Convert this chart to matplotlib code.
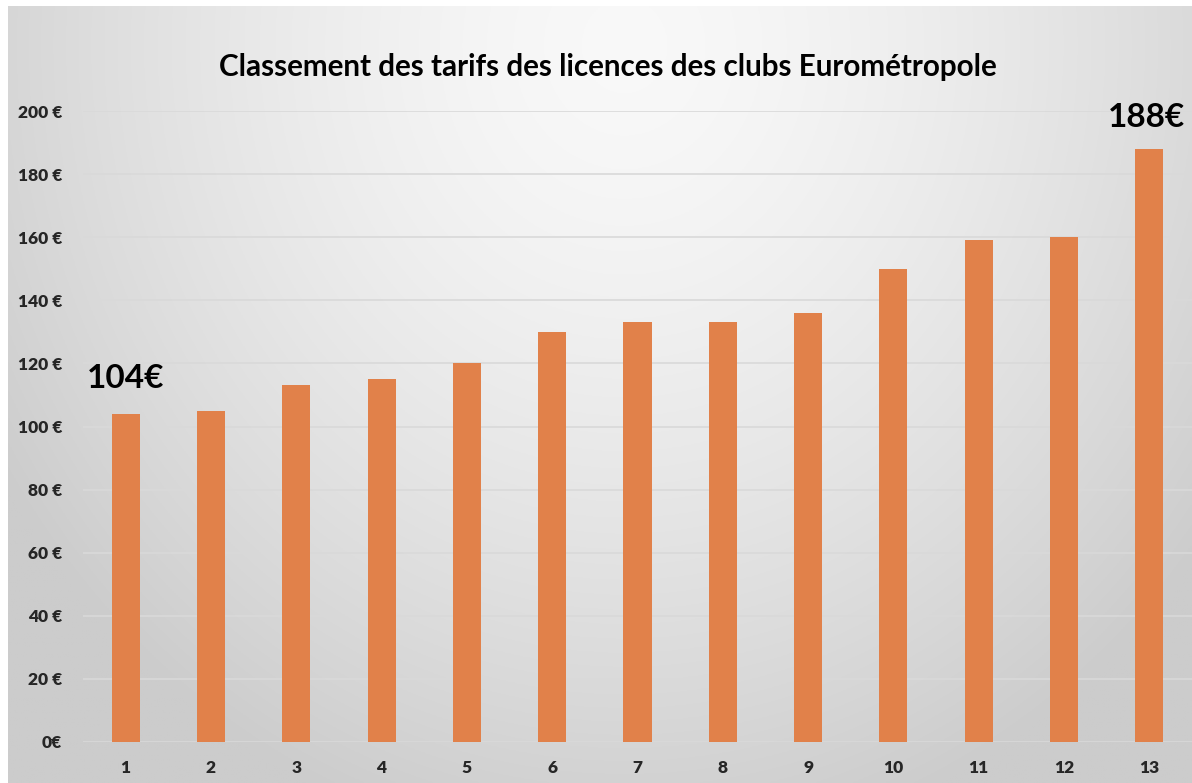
import numpy as np
import matplotlib
matplotlib.use("Agg")
import matplotlib.pyplot as plt

# ---- data ----
categories = ["1", "2", "3", "4", "5", "6", "7", "8", "9", "10", "11", "12", "13"]
tarifs = [104, 105, 113, 115, 120, 130, 133, 133, 136, 150, 159, 160, 188]
ytick_values = [0, 20, 40, 60, 80, 100, 120, 140, 160, 180, 200]
ytick_labels = ["0€", "20 €", "40 €", "60 €", "80 €", "100 €", "120 €", "140 €",
                "160 €", "180 €", "200 €"]
title = "Classement des tarifs des licences des clubs Eurométropole"
annot_min_label = "104€"
annot_max_label = "188€"

W, H = 1192, 783
fig = plt.figure(figsize=(W / 100, H / 100), dpi=100)
fig.patch.set_facecolor("white")

# ---- radial gradient background ----
bg_ax = fig.add_axes([8 / W, 0, 1 - 8 / W, 1 - 6 / H])
bg_ax.set_axis_off()
ny, nx = 400, 600
yy, xx = np.mgrid[0:ny, 0:nx]
cx, cy = nx * 0.52, ny * 0.05
r = np.sqrt(((xx - cx) / (nx * 0.62)) ** 2 + ((yy - cy) / (ny * 1.05)) ** 2)
r = np.clip(r, 0, 1)
light, dark = 0.975, 0.80
val = light - (light - dark) * r ** 1.5
img = np.dstack([val, val, val])
bg_ax.imshow(img, aspect="auto", extent=[0, 1, 0, 1], origin="upper")
bg_ax.set_xlim(0, 1)
bg_ax.set_ylim(0, 1)

# ---- main axes ----
left = 83 / W
bottom = 1 - 742 / H
top = 1 - 111 / H
ax = fig.add_axes([left, bottom, 1 - left, top - bottom])
ax.patch.set_alpha(0)

x = np.arange(1, len(categories) + 1)
ax.bar(x, tarifs, width=0.33, color="#E1814A", zorder=3)

ax.set_xlim(0.5, len(categories) + 0.5)
ax.set_ylim(0, 200)
ax.set_yticks(ytick_values)
ax.set_yticklabels(ytick_labels)
ax.set_xticks(x)
ax.set_xticklabels(categories)

for v in ytick_values:
    ax.axhline(v, color="#d9d9d9", linewidth=1.2, zorder=1)

for s in ax.spines.values():
    s.set_visible(False)
ax.tick_params(axis="both", length=0)
ax.tick_params(axis="y", pad=15)
ax.tick_params(axis="x", pad=13)
for lab in ax.get_yticklabels() + ax.get_xticklabels():
    lab.set_fontfamily("Lato")
    lab.set_fontweight("heavy")
    lab.set_fontsize(12.5)
    lab.set_color("#262626")

# annotations
ax.annotate(annot_min_label, xy=(x[0], tarifs[0]), xytext=(0, 15),
            textcoords="offset points", ha="center", va="bottom",
            fontsize=24, fontweight="bold", family="Lato", color="black")
ax.annotate(annot_max_label, xy=(x[-1], tarifs[-1]), xytext=(-2, 12),
            textcoords="offset points", ha="center", va="bottom",
            fontsize=24, fontweight="bold", family="Lato", color="black")

fig.text(608 / W, 1 - 67 / H, title, ha="center", va="center",
         fontsize=21.3, fontweight="bold", family="Lato", color="black")

fig.savefig("out.png", dpi=100)
